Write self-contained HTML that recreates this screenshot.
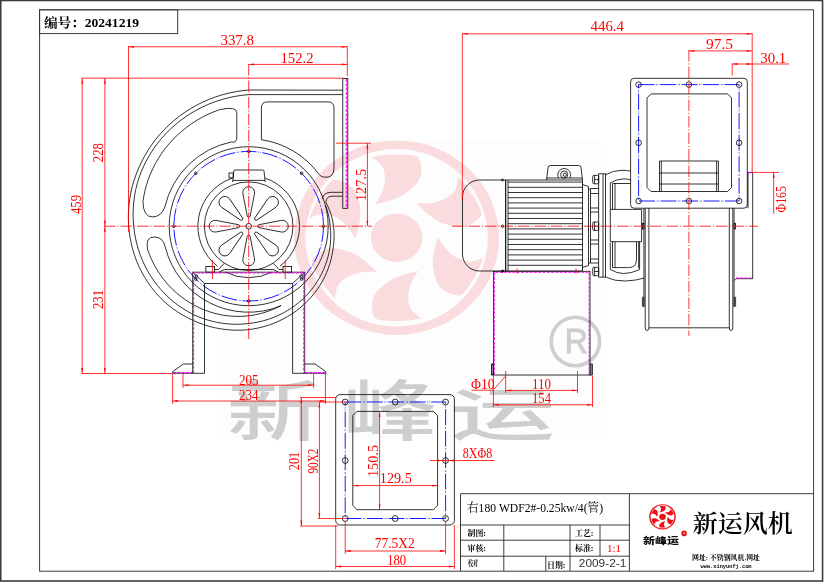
<!DOCTYPE html>
<html lang="zh"><head><meta charset="utf-8"><title>右180 WDF2#-0.25kw/4(管)</title>
<style>
html,body{margin:0;padding:0;background:#fff}
svg{display:block;will-change:transform}
.k{fill:none;stroke:#000;stroke-width:.8}
.f{fill:none;stroke:#333;stroke-width:.95}
.r{fill:none;stroke:#f00;stroke-width:.8}
.lr{fill:#fff;stroke:#e60012;stroke-width:1}
.c{fill:none;stroke:#f00;stroke-width:.8;stroke-dasharray:11.5 1.9 1.2 1.9}
.b{fill:none;stroke:#00f;stroke-width:.9;stroke-dasharray:16 1.7 .7 .7 .7 1.7}
.m{fill:none;stroke:#f0f;stroke-width:1.05;stroke-dasharray:3 1.3}
text{font-family:"Liberation Serif","Noto Serif CJK SC",serif}
.d{font-size:14.4px;fill:#f00}
.no{font-size:13px;font-weight:bold;fill:#000}
.t1{font-size:12.5px;fill:#000}
.t2{font-size:8.5px;font-weight:bold;fill:#000}
.t3{font-size:7.5px;font-weight:bold;fill:#000}
.t4{font-size:11px;fill:#f00}
.t5{font-family:"Liberation Sans",sans-serif;font-size:11px;fill:#333}
.t6{font-size:6.5px;font-weight:bold;fill:#000}
.t7{font-family:"Liberation Mono",monospace;font-size:6px;font-weight:bold;fill:#000}
.wm{font-family:"Liberation Sans","Noto Sans CJK SC",sans-serif;font-weight:500;font-size:66px;fill:#cecece}
.reg{font-family:"Liberation Sans",sans-serif;font-size:34.6px;fill:#cecece;stroke:#cecece;stroke-width:1.1}
.lg{font-family:"Liberation Sans","Noto Sans CJK SC",sans-serif;font-weight:900;font-size:9px;fill:#111}
.big{font-family:"Liberation Serif","Noto Serif CJK SC",serif;font-size:23.8px;font-weight:600;fill:#000}
</style></head><body>
<svg width="824" height="582" viewBox="0 0 824 582">
<rect width="824" height="582" fill="#fff"/>
<rect x="222" y="139.6" width="379" height="300.4" fill="#fdfdfd"/>
<g transform="translate(396.6 237.7) scale(1.0)" fill="#fadbde">
<path fill-rule="evenodd" d="M-102.4 0A102.4 97.2 0 1 0 102.4 0A102.4 97.2 0 1 0 -102.4 0ZM-91.3 0A91.3 88.7 0 1 1 91.3 0A91.3 88.7 0 1 1 -91.3 0Z"/>
<ellipse rx="25.8" ry="24.2"/>
<path d="M-25.2 -80.7L-24.3 -80.9L-23.0 -81.1L-21.5 -81.3L-19.9 -81.6L-18.2 -81.9L-16.6 -82.1L-15.0 -82.3L-13.4 -82.5L-11.7 -82.6L-10.0 -82.8L-8.3 -82.9L-6.6 -83.0L-4.9 -83.1L-3.3 -83.2L-1.6 -83.2L-0.0 -83.3L1.6 -83.3L3.1 -83.3L4.6 -83.3L6.1 -83.2L7.5 -83.2L8.9 -83.1L10.2 -83.0L11.4 -82.9L12.6 -82.8L13.7 -82.7L14.7 -82.6L15.7 -82.5L16.6 -82.4L17.4 -82.2L18.1 -82.0L18.8 -81.8L19.4 -81.6L19.9 -81.3L20.4 -81.0L20.9 -80.7L21.3 -80.3L21.7 -79.9L22.1 -79.4L22.4 -78.9L22.7 -78.3L23.0 -77.7L23.3 -77.1L23.5 -76.4L23.7 -75.8L23.9 -75.1L24.0 -74.3L24.2 -73.4L24.4 -72.5L24.6 -71.5L24.7 -70.4L24.8 -69.3L24.9 -68.1L24.8 -66.8L24.6 -65.4L24.4 -63.9L24.0 -62.3L23.6 -60.8L23.0 -59.2L22.4 -57.8L21.7 -56.5L20.8 -55.3L19.9 -54.2L18.9 -53.0L17.7 -51.8L16.4 -50.6L14.9 -49.2L13.2 -47.8L11.3 -46.3L9.4 -44.8L7.4 -43.4L5.5 -42.2L3.6 -41.2L1.7 -40.3L-0.2 -39.5L-2.2 -38.8L-4.3 -38.0L-6.5 -37.3L-9.0 -36.5L-11.9 -35.7L-14.8 -34.9L-17.6 -34.2L-19.9 -33.5L-21.6 -33.1L-21.0 -34.1L-20.1 -35.4L-19.1 -37.1L-18.0 -38.8L-17.0 -40.5L-16.1 -42.2L-15.4 -43.8L-14.7 -45.4L-14.0 -47.0L-13.4 -48.7L-12.9 -50.3L-12.5 -51.8L-12.2 -53.3L-11.9 -54.7L-11.8 -56.1L-11.7 -57.4L-11.7 -58.8L-11.7 -60.2L-11.8 -61.6L-11.9 -63.1L-12.1 -64.5L-12.3 -66.0L-12.7 -67.3L-13.1 -68.6L-13.6 -69.8L-14.2 -70.8L-14.8 -71.8L-15.5 -72.8L-16.4 -73.7L-17.3 -74.7L-18.5 -75.8L-20.0 -76.9L-21.5 -78.1L-23.0 -79.1L-24.3 -80.0Z"/>
<path d="M61.6 -60.9L62.2 -60.2L63.1 -59.3L64.0 -58.2L65.1 -57.0L66.2 -55.8L67.2 -54.6L68.2 -53.4L69.1 -52.1L70.1 -50.8L71.1 -49.5L72.1 -48.2L73.0 -46.9L73.9 -45.6L74.8 -44.3L75.7 -43.0L76.6 -41.7L77.4 -40.4L78.2 -39.1L78.9 -37.9L79.6 -36.7L80.2 -35.5L80.8 -34.3L81.4 -33.2L81.9 -32.2L82.4 -31.2L82.9 -30.2L83.3 -29.3L83.7 -28.5L84.0 -27.7L84.3 -26.9L84.5 -26.2L84.6 -25.6L84.7 -25.0L84.8 -24.4L84.7 -23.9L84.7 -23.3L84.5 -22.7L84.3 -22.2L84.0 -21.7L83.7 -21.1L83.4 -20.6L83.0 -20.1L82.5 -19.6L82.0 -19.1L81.5 -18.6L81.0 -18.1L80.3 -17.5L79.6 -17.0L78.8 -16.4L78.0 -15.7L77.1 -15.0L76.1 -14.4L75.0 -13.7L73.8 -13.2L72.5 -12.6L71.0 -12.1L69.3 -11.6L67.7 -11.1L66.0 -10.8L64.4 -10.6L62.8 -10.6L61.3 -10.7L59.8 -10.8L58.2 -11.1L56.5 -11.5L54.7 -11.9L52.7 -12.5L50.5 -13.1L48.2 -13.9L45.9 -14.7L43.6 -15.6L41.6 -16.6L39.7 -17.7L37.9 -18.8L36.2 -19.9L34.5 -21.2L32.8 -22.5L31.1 -24.0L29.1 -25.6L26.9 -27.5L24.7 -29.5L22.6 -31.4L20.9 -33.0L19.6 -34.2L20.9 -34.2L22.5 -34.1L24.5 -34.1L26.7 -34.1L28.8 -34.1L30.8 -34.2L32.6 -34.4L34.4 -34.7L36.3 -34.9L38.0 -35.3L39.8 -35.7L41.4 -36.1L42.9 -36.6L44.3 -37.1L45.7 -37.7L47.0 -38.3L48.2 -38.9L49.5 -39.6L50.8 -40.4L52.1 -41.2L53.3 -42.1L54.5 -43.1L55.6 -44.0L56.5 -45.0L57.3 -46.0L58.0 -46.9L58.6 -48.0L59.1 -49.0L59.6 -50.2L60.0 -51.5L60.4 -53.0L60.8 -54.7L61.0 -56.6L61.3 -58.3L61.5 -59.8Z"/>
<path d="M86.8 19.8L86.5 20.6L86.1 21.8L85.6 23.1L85.0 24.6L84.4 26.1L83.8 27.5L83.2 28.9L82.5 30.3L81.8 31.8L81.1 33.3L80.4 34.7L79.6 36.1L78.9 37.5L78.1 38.9L77.4 40.3L76.6 41.6L75.8 42.9L75.1 44.2L74.3 45.4L73.5 46.6L72.7 47.7L72.0 48.8L71.2 49.8L70.5 50.7L69.9 51.7L69.2 52.5L68.6 53.3L68.0 54.0L67.5 54.7L66.9 55.3L66.3 55.8L65.8 56.2L65.3 56.6L64.8 56.9L64.3 57.2L63.8 57.4L63.2 57.6L62.6 57.7L61.9 57.7L61.3 57.7L60.6 57.7L60.0 57.6L59.3 57.5L58.6 57.4L57.8 57.2L57.1 57.0L56.3 56.7L55.4 56.4L54.4 56.1L53.4 55.8L52.4 55.4L51.3 54.9L50.2 54.3L49.0 53.6L47.9 52.8L46.6 51.8L45.3 50.8L44.1 49.6L42.9 48.4L42.0 47.2L41.1 45.9L40.4 44.7L39.8 43.3L39.3 41.9L38.8 40.4L38.3 38.7L37.8 36.7L37.3 34.6L36.9 32.4L36.5 30.1L36.2 27.8L36.1 25.6L36.1 23.5L36.2 21.5L36.4 19.6L36.8 17.6L37.1 15.5L37.6 13.3L38.1 10.9L38.8 8.2L39.5 5.4L40.2 2.8L40.8 0.5L41.2 -1.1L41.8 -0.1L42.6 1.3L43.6 3.0L44.7 4.7L45.8 6.4L46.9 8.0L47.9 9.4L49.1 10.8L50.3 12.1L51.5 13.4L52.7 14.6L53.9 15.7L55.1 16.7L56.3 17.6L57.5 18.4L58.7 19.2L59.9 19.9L61.2 20.6L62.6 21.2L64.0 21.8L65.4 22.4L66.8 22.9L68.3 23.3L69.6 23.6L70.9 23.8L72.2 23.9L73.4 23.8L74.7 23.7L76.0 23.5L77.3 23.2L78.9 22.8L80.7 22.2L82.6 21.5L84.3 20.8L85.8 20.2Z"/>
<path d="M25.2 80.7L24.3 80.9L23.0 81.1L21.5 81.3L19.9 81.6L18.2 81.9L16.6 82.1L15.0 82.3L13.4 82.5L11.7 82.6L10.0 82.8L8.3 82.9L6.6 83.0L4.9 83.1L3.3 83.2L1.6 83.2L0.0 83.3L-1.6 83.3L-3.1 83.3L-4.6 83.3L-6.1 83.2L-7.5 83.2L-8.9 83.1L-10.2 83.0L-11.4 82.9L-12.6 82.8L-13.7 82.7L-14.7 82.6L-15.7 82.5L-16.6 82.4L-17.4 82.2L-18.1 82.0L-18.8 81.8L-19.4 81.6L-19.9 81.3L-20.4 81.0L-20.9 80.7L-21.3 80.3L-21.7 79.9L-22.1 79.4L-22.4 78.9L-22.7 78.3L-23.0 77.7L-23.3 77.1L-23.5 76.4L-23.7 75.8L-23.9 75.1L-24.0 74.3L-24.2 73.4L-24.4 72.5L-24.6 71.5L-24.7 70.4L-24.8 69.3L-24.9 68.1L-24.8 66.8L-24.6 65.4L-24.4 63.9L-24.0 62.3L-23.6 60.8L-23.0 59.2L-22.4 57.8L-21.7 56.5L-20.8 55.3L-19.9 54.2L-18.9 53.0L-17.7 51.8L-16.4 50.6L-14.9 49.2L-13.2 47.8L-11.3 46.3L-9.4 44.8L-7.4 43.4L-5.5 42.2L-3.6 41.2L-1.7 40.3L0.2 39.5L2.2 38.8L4.3 38.0L6.5 37.3L9.0 36.5L11.9 35.7L14.8 34.9L17.6 34.2L19.9 33.5L21.6 33.1L21.0 34.1L20.1 35.4L19.1 37.1L18.0 38.8L17.0 40.5L16.1 42.2L15.4 43.8L14.7 45.4L14.0 47.0L13.4 48.7L12.9 50.3L12.5 51.8L12.2 53.3L11.9 54.7L11.8 56.1L11.7 57.4L11.7 58.8L11.7 60.2L11.8 61.6L11.9 63.1L12.1 64.5L12.3 66.0L12.7 67.3L13.1 68.6L13.6 69.8L14.2 70.8L14.8 71.8L15.5 72.8L16.4 73.7L17.3 74.7L18.5 75.8L20.0 76.9L21.5 78.1L23.0 79.1L24.3 80.0Z"/>
<path d="M-61.6 60.9L-62.2 60.2L-63.1 59.3L-64.0 58.2L-65.1 57.0L-66.2 55.8L-67.2 54.6L-68.2 53.4L-69.1 52.1L-70.1 50.8L-71.1 49.5L-72.1 48.2L-73.0 46.9L-73.9 45.6L-74.8 44.3L-75.7 43.0L-76.6 41.7L-77.4 40.4L-78.2 39.1L-78.9 37.9L-79.6 36.7L-80.2 35.5L-80.8 34.3L-81.4 33.2L-81.9 32.2L-82.4 31.2L-82.9 30.2L-83.3 29.3L-83.7 28.5L-84.0 27.7L-84.3 26.9L-84.5 26.2L-84.6 25.6L-84.7 25.0L-84.8 24.4L-84.7 23.9L-84.7 23.3L-84.5 22.7L-84.3 22.2L-84.0 21.7L-83.7 21.1L-83.4 20.6L-83.0 20.1L-82.5 19.6L-82.0 19.1L-81.5 18.6L-81.0 18.1L-80.3 17.5L-79.6 17.0L-78.8 16.4L-78.0 15.7L-77.1 15.0L-76.1 14.4L-75.0 13.7L-73.8 13.2L-72.5 12.6L-71.0 12.1L-69.3 11.6L-67.7 11.1L-66.0 10.8L-64.4 10.6L-62.8 10.6L-61.3 10.7L-59.8 10.8L-58.2 11.1L-56.5 11.5L-54.7 11.9L-52.7 12.5L-50.5 13.1L-48.2 13.9L-45.9 14.7L-43.6 15.6L-41.6 16.6L-39.7 17.7L-37.9 18.8L-36.2 19.9L-34.5 21.2L-32.8 22.5L-31.1 24.0L-29.1 25.6L-26.9 27.5L-24.7 29.5L-22.6 31.4L-20.9 33.0L-19.6 34.2L-20.9 34.2L-22.5 34.1L-24.5 34.1L-26.7 34.1L-28.8 34.1L-30.8 34.2L-32.6 34.4L-34.4 34.7L-36.3 34.9L-38.0 35.3L-39.8 35.7L-41.4 36.1L-42.9 36.6L-44.3 37.1L-45.7 37.7L-47.0 38.3L-48.2 38.9L-49.5 39.6L-50.8 40.4L-52.1 41.2L-53.3 42.1L-54.5 43.1L-55.6 44.0L-56.5 45.0L-57.3 46.0L-58.0 46.9L-58.6 48.0L-59.1 49.0L-59.6 50.2L-60.0 51.5L-60.4 53.0L-60.8 54.7L-61.0 56.6L-61.3 58.3L-61.5 59.8Z"/>
<path d="M-86.8 -19.8L-86.5 -20.6L-86.1 -21.8L-85.6 -23.1L-85.0 -24.6L-84.4 -26.1L-83.8 -27.5L-83.2 -28.9L-82.5 -30.3L-81.8 -31.8L-81.1 -33.3L-80.4 -34.7L-79.6 -36.1L-78.9 -37.5L-78.1 -38.9L-77.4 -40.3L-76.6 -41.6L-75.8 -42.9L-75.1 -44.2L-74.3 -45.4L-73.5 -46.6L-72.7 -47.7L-72.0 -48.8L-71.2 -49.8L-70.5 -50.7L-69.9 -51.7L-69.2 -52.5L-68.6 -53.3L-68.0 -54.0L-67.5 -54.7L-66.9 -55.3L-66.3 -55.8L-65.8 -56.2L-65.3 -56.6L-64.8 -56.9L-64.3 -57.2L-63.8 -57.4L-63.2 -57.6L-62.6 -57.7L-61.9 -57.7L-61.3 -57.7L-60.6 -57.7L-60.0 -57.6L-59.3 -57.5L-58.6 -57.4L-57.8 -57.2L-57.1 -57.0L-56.3 -56.7L-55.4 -56.4L-54.4 -56.1L-53.4 -55.8L-52.4 -55.4L-51.3 -54.9L-50.2 -54.3L-49.0 -53.6L-47.9 -52.8L-46.6 -51.8L-45.3 -50.8L-44.1 -49.6L-42.9 -48.4L-42.0 -47.2L-41.1 -45.9L-40.4 -44.7L-39.8 -43.3L-39.3 -41.9L-38.8 -40.4L-38.3 -38.7L-37.8 -36.7L-37.3 -34.6L-36.9 -32.4L-36.5 -30.1L-36.2 -27.8L-36.1 -25.6L-36.1 -23.5L-36.2 -21.5L-36.4 -19.6L-36.8 -17.6L-37.1 -15.5L-37.6 -13.3L-38.1 -10.9L-38.8 -8.2L-39.5 -5.4L-40.2 -2.8L-40.8 -0.5L-41.2 1.1L-41.8 0.1L-42.6 -1.3L-43.6 -3.0L-44.7 -4.7L-45.8 -6.4L-46.9 -8.0L-47.9 -9.4L-49.1 -10.8L-50.3 -12.1L-51.5 -13.4L-52.7 -14.6L-53.9 -15.7L-55.1 -16.7L-56.3 -17.6L-57.5 -18.4L-58.7 -19.2L-59.9 -19.9L-61.2 -20.6L-62.6 -21.2L-64.0 -21.8L-65.4 -22.4L-66.8 -22.9L-68.3 -23.3L-69.6 -23.6L-70.9 -23.8L-72.2 -23.9L-73.4 -23.8L-74.7 -23.7L-76.0 -23.5L-77.3 -23.2L-78.9 -22.8L-80.7 -22.2L-82.6 -21.5L-84.3 -20.8L-85.8 -20.2Z"/>
</g>
<text class="wm" transform="translate(274.3 434.5) scale(1.44 1)" text-anchor="middle">新</text>
<text class="wm" transform="translate(390 434.5) scale(1.44 1)" text-anchor="middle">峰</text>
<text class="wm" transform="translate(502.5 434.5) scale(1.6 0.86)" text-anchor="middle">运</text>
<circle cx="575.4" cy="341.5" r="24.2" fill="none" stroke="#cecece" stroke-width="3.6"/>
<text class="reg" x="576.3" y="353.4" text-anchor="middle" textLength="23" lengthAdjust="spacingAndGlyphs">R</text>
<rect x="0.75" y="0.5" width="821.8" height="580.5" fill="none" stroke="#3c3c3c" stroke-width="1.6"/>
<rect class="f" x="39.6" y="9.8" width="774" height="561.4" rx="0" />
<rect class="f" x="39.6" y="9.8" width="138.1" height="23.8" rx="0" />
<text class="no" x="44" y="27.4" text-anchor="start" textLength="95" lengthAdjust="spacingAndGlyphs" >编号：20241219</text>
<path class="k" d="M325.84 202.17L327.75 206.05L329.45 210.06L330.95 214.2L332.12 218.46L333.04 222.81L333.71 227.24L334.03 231.72L334.11 236.23L333.95 240.77L333.55 245.32L332.91 249.87L332.12 254.44L331.13 259L329.88 263.54L328.39 268.04L326.64 272.48L324.65 276.85L322.41 281.14L319.93 285.34L317.21 289.42L314.26 293.38L311.08 297.21L307.68 300.88L304.06 304.39L300.24 307.73L296.22 310.88L292.01 313.83L287.62 316.56L283.06 319.08L278.34 321.37L273.48 323.42L268.48 325.21L263.37 326.75L258.15 328.02L252.83 329.02L247.44 329.73L241.98 330.11L236.48 330.2L230.96 330L225.42 329.51L219.88 328.72L214.37 327.63L208.89 326.24L203.46 324.56L198.1 322.58L192.83 320.3L187.62 317.78L182.52 314.98L177.56 311.89L172.73 308.53L168.06 304.89L163.57 300.99L159.32 296.78L155.34 292.3L151.58 287.6L148.06 282.68L144.79 277.56L141.78 272.25L139.05 266.76L136.64 261.1L134.53 255.3L132.71 249.38L131.21 243.34L130.01 237.21L129.14 231L128.58 224.73L128.35 218.42L128.45 212.07L128.88 205.72L129.65 199.37L130.76 193.05L132.2 186.77L133.99 180.55L136.1 174.41L138.54 168.37L141.31 162.44L144.35 156.61L147.68 150.9L151.31 145.35L155.26 139.97L159.5 134.79L164.02 129.82L168.83 125.07L173.9 120.56L179.22 116.3L184.79 112.31L190.58 108.61L196.59 105.2L202.8 102.1L209.18 99.32L215.73 96.87L222.44 94.76L229.27 93L236.21 91.59L243.25 90.55L248.7 90L342.8 90.2" />
<path class="k" d="M325.59 205.6L326.93 209.57L328.07 213.63L329 217.76L329.71 221.95L330.2 226.2L330.59 230.49L330.75 234.82L330.68 239.18L330.38 243.56L329.84 247.94L329.06 252.31L328.05 256.66L326.81 260.98L325.33 265.24L323.61 269.45L321.7 273.61L319.55 277.68L317.18 281.66L314.59 285.53L311.77 289.27L308.75 292.89L305.52 296.36L302.08 299.67L298.46 302.82L294.65 305.79L290.67 308.56L286.52 311.14L282.21 313.51L277.77 315.66L273.18 317.58L268.48 319.26L263.67 320.7L258.76 321.89L253.76 322.83L248.7 323.5L243.57 324.01L238.39 324.25L233.18 324.22L227.93 323.9L222.68 323.31L217.43 322.43L212.21 321.26L207.02 319.82L201.88 318.08L196.82 316.07L191.85 313.75L187.02 311.1L182.31 308.19L177.73 305.02L173.31 301.59L169.06 297.91L164.98 294L161.1 289.85L157.42 285.48L153.96 280.9L150.73 276.12L147.74 271.15L145.01 266L142.53 260.7L140.34 255.24L138.42 249.64L136.79 243.92L135.47 238.1L134.44 232.19L133.68 226.2L133.22 220.15L133.07 214.05L133.25 207.91L133.75 201.77L134.58 195.62L135.75 189.5L137.24 183.41L139.12 177.41L141.35 171.5L143.9 165.69L146.77 160L149.94 154.45L153.42 149.05L157.2 143.81L161.26 138.76L165.6 133.91L170.21 129.28L175.08 124.87L180.2 120.71L185.55 116.82L191.12 113.19L196.9 109.85L202.87 106.8L209.01 104.06L215.32 101.64L221.78 99.55L228.36 97.79L235.05 96.37L241.84 95.31L248.7 94.6L342.8 94.6" />
<path class="k" d="M342.8 196.2H332Q326.4 196.2 325.84 202.17" />
<path class="k" d="M342.8 192.3H331.5Q323.4 192.3 322.4 198.7" />
<rect class="k" x="342.8" y="78.4" width="5" height="129.9" rx="0" />
<path class="m" d="M346.3 79L346.3 208" />
<circle class="k" cx="248.7" cy="226.2" r="79.5" />
<circle class="b" cx="248.7" cy="226.2" r="74.8" />
<circle class="k" cx="323.5" cy="226.2" r="1.3" />
<circle class="k" cx="301.59" cy="279.09" r="1.3" />
<circle class="k" cx="248.7" cy="301" r="1.3" />
<circle class="k" cx="195.81" cy="279.09" r="1.3" />
<circle class="k" cx="173.9" cy="226.2" r="1.3" />
<circle class="k" cx="195.81" cy="173.31" r="1.3" />
<circle class="k" cx="248.7" cy="151.4" r="1.3" />
<circle class="k" cx="301.59" cy="173.31" r="1.3" />
<circle class="k" cx="248.7" cy="226.2" r="44.3" />
<path class="k" d="M265.24 178.17A50.8 50.8 0 0 1 279.98 266.23" />
<path class="k" d="M217.42 266.23A50.8 50.8 0 0 1 232.16 178.17" />
<path class="k" d="M272.08 272.09A51.5 51.5 0 0 1 225.32 272.09" />
<path class="k" d="M232.6 182L233.8 171Q233.9 170 235 170H262.8Q263.9 170 264 171L265.2 182" />
<path class="k" d="M232.8 180.4L265 180.4" />
<rect class="k" x="229" y="173" width="4.2" height="4.9" rx="0" />
<path class="k" transform="translate(248.7 226.2) rotate(0)" d="M10.12 -1.47L32.58 -5.79A5.9 5.9 0 1 1 32.58 5.79L10.12 1.47A1.5 1.5 0 0 1 10.12 -1.47Z"/>
<path class="k" transform="translate(248.7 226.2) rotate(45)" d="M10.12 -1.47L32.58 -5.79A5.9 5.9 0 1 1 32.58 5.79L10.12 1.47A1.5 1.5 0 0 1 10.12 -1.47Z"/>
<path class="k" transform="translate(248.7 226.2) rotate(90)" d="M10.12 -1.47L32.58 -5.79A5.9 5.9 0 1 1 32.58 5.79L10.12 1.47A1.5 1.5 0 0 1 10.12 -1.47Z"/>
<path class="k" transform="translate(248.7 226.2) rotate(135)" d="M10.12 -1.47L32.58 -5.79A5.9 5.9 0 1 1 32.58 5.79L10.12 1.47A1.5 1.5 0 0 1 10.12 -1.47Z"/>
<path class="k" transform="translate(248.7 226.2) rotate(180)" d="M10.12 -1.47L32.58 -5.79A5.9 5.9 0 1 1 32.58 5.79L10.12 1.47A1.5 1.5 0 0 1 10.12 -1.47Z"/>
<path class="k" transform="translate(248.7 226.2) rotate(225)" d="M10.12 -1.47L32.58 -5.79A5.9 5.9 0 1 1 32.58 5.79L10.12 1.47A1.5 1.5 0 0 1 10.12 -1.47Z"/>
<path class="k" transform="translate(248.7 226.2) rotate(270)" d="M10.12 -1.47L32.58 -5.79A5.9 5.9 0 1 1 32.58 5.79L10.12 1.47A1.5 1.5 0 0 1 10.12 -1.47Z"/>
<path class="k" transform="translate(248.7 226.2) rotate(315)" d="M10.12 -1.47L32.58 -5.79A5.9 5.9 0 1 1 32.58 5.79L10.12 1.47A1.5 1.5 0 0 1 10.12 -1.47Z"/>
<circle class="k" cx="248.7" cy="226.2" r="2.8" />
<rect class="k" x="205.9" y="266.4" width="8.6" height="5.8" rx="0" />
<rect class="k" x="283" y="266.4" width="8.6" height="5.8" rx="0" />
<path class="k" d="M214.5 269.5L218.5 269.5L224 263.5" />
<path class="k" d="M283 269.5L279 269.5L273.5 263.5" />
<path class="k" d="M219 272.2L224.5 269.5H273L278.5 272.2" />
<path class="k" d="M261.4 139.7V107.9Q261.4 101.9 267.4 101.9H328Q334 101.9 334 107.9V168Q334 178.5 323.81 177.14Q320.81 176.64 319.31 174.64A87.5 87.5 0 0 0 261.4 139.7Z" />
<path class="k" d="M142.93 201.78L143.83 196.13L145.02 190.5L146.52 184.92L148.32 179.39L150.42 173.94L152.82 168.59L155.51 163.34L158.49 158.22L161.74 153.24L165.28 148.41L169.08 143.75L173.14 139.28L177.46 135.01L182.01 130.96L186.79 127.13L191.8 123.54L197 120.21L202.41 117.14L207.99 114.35L213.74 111.84L219.64 109.64Q236.8 106 236.8 112.6V137Q236.8 143.5 231.55 141.93A86 86 0 0 0 164.9 206.85Q161.33 216.92 152.33 216.92Q143.33 216.92 142.93 201.78Z" />
<path class="k" d="M280.75 305.53L276.74 307.62L272.59 309.51L268.32 311.18L263.94 312.64L259.46 313.86L254.9 314.86L250.26 315.61L245.56 316.12L240.81 316.38L236.02 316.39L231.22 316.15L226.4 315.65L221.59 314.88L216.79 313.86L212.03 312.58L207.32 311.04L202.67 309.24L198.1 307.18L193.61 304.88L189.23 302.32L184.96 299.52L180.83 296.48L176.84 293.21L173.01 289.71L169.35 285.99L165.87 282.07L162.59 277.94L159.51 273.62L156.65 269.12L154.02 264.45L151.63 259.62L149.48 254.65L147.59 249.54Q145.15 236.97 154.15 236.97Q163.15 236.97 165.25 247.01A86 86 0 0 0 280.92 305.94Z" />
<path class="k" d="M192.7 373.3V272.2H304.7V373.3" />
<path class="k" d="M204.5 283.5L204.5 373.3" />
<path class="k" d="M292.6 283.5L292.6 373.3" />
<path class="k" d="M204.5 283.5L292.6 283.5" />
<path class="k" d="M192.7 272.2L204.5 283.5" />
<path class="k" d="M304.7 272.2L292.6 283.5" />
<path class="k" d="M204.5 373.3H172.6V371.6L183.4 364H192.7" />
<path class="k" d="M292.6 373.3H325.8V371.6L315 364H304.7" />
<path class="m" d="M193.6 373V273H304" />
<path class="m" d="M303.8 273L303.8 373" />
<path class="m" d="M173 372.6L192 372.6" />
<path class="m" d="M305 372.6L325 372.6" />
<circle class="k" cx="196.3" cy="276.2" r="1.3" />
<circle class="k" cx="301.2" cy="276.2" r="1.3" />
<path class="c" d="M104 226.2L372 226.2" />
<path class="c" d="M248.7 64L248.7 339" />
<path class="r" d="M212.4 260L212.4 279" />
<path class="r" d="M285.2 260L285.2 279" />
<path class="r" d="M81.5 78.2L343.4 78.2" />
<path class="r" d="M81.5 373.5L172 373.5" />
<path class="r" d="M82.2 78.2L82.2 373.5" />
<path d="M82.2 78.2L83.1 83.7L81.3 83.7Z" fill="#f00"/>
<path d="M82.2 373.5L81.3 368L83.1 368Z" fill="#f00"/>
<path class="r" d="M104.9 78.2L104.9 226.2" />
<path d="M104.9 78.2L105.8 83.7L104 83.7Z" fill="#f00"/>
<path d="M104.9 226.2L104 220.7L105.8 220.7Z" fill="#f00"/>
<path class="r" d="M104.9 226.2L104.9 373.5" />
<path d="M104.9 226.2L105.8 231.7L104 231.7Z" fill="#f00"/>
<path d="M104.9 373.5L104 368L105.8 368Z" fill="#f00"/>
<text class="d" text-anchor="middle" textLength="19" lengthAdjust="spacingAndGlyphs" transform="translate(81 204.5) rotate(-90)">459</text>
<text class="d" text-anchor="middle" textLength="19" lengthAdjust="spacingAndGlyphs" transform="translate(103.4 152.7) rotate(-90)">228</text>
<text class="d" text-anchor="middle" textLength="19" lengthAdjust="spacingAndGlyphs" transform="translate(103.4 299.5) rotate(-90)">231</text>
<path class="r" d="M128.5 46L128.5 232" />
<path class="r" d="M347.3 46L347.3 76" />
<path class="r" d="M128.5 46.8L347.3 46.8" />
<path d="M128.5 46.8L134 45.9L134 47.7Z" fill="#f00"/>
<path d="M347.3 46.8L341.8 47.7L341.8 45.9Z" fill="#f00"/>
<text class="d" x="237.2" y="45" text-anchor="middle" textLength="33.5" lengthAdjust="spacingAndGlyphs" >337.8</text>
<path class="r" d="M248.7 64.4L347.3 64.4" />
<path d="M248.7 64.4L254.2 63.5L254.2 65.3Z" fill="#f00"/>
<path d="M347.3 64.4L341.8 65.3L341.8 63.5Z" fill="#f00"/>
<text class="d" x="297" y="62.7" text-anchor="middle" textLength="33" lengthAdjust="spacingAndGlyphs" >152.2</text>
<path class="r" d="M336 143.2L371 143.2" />
<path class="r" d="M367.4 143.2L367.4 226.2" />
<path d="M367.4 143.2L368.3 148.7L366.5 148.7Z" fill="#f00"/>
<path d="M367.4 226.2L366.5 220.7L368.3 220.7Z" fill="#f00"/>
<text class="d" text-anchor="middle" textLength="32" lengthAdjust="spacingAndGlyphs" transform="translate(365.6 185) rotate(-90)">127.5</text>
<path class="r" d="M183 374L183 388" />
<path class="r" d="M313.6 374L313.6 388" />
<path class="r" d="M183 385.2L313.6 385.2" />
<path d="M183 385.2L188.5 384.3L188.5 386.1Z" fill="#f00"/>
<path d="M313.6 385.2L308.1 386.1L308.1 384.3Z" fill="#f00"/>
<text class="d" x="248.8" y="384.6" text-anchor="middle" textLength="19.5" lengthAdjust="spacingAndGlyphs" >205</text>
<path class="r" d="M172.6 374L172.6 404" />
<path class="r" d="M325.4 374L325.4 404" />
<path class="r" d="M172.6 401L325.4 401" />
<path d="M172.6 401L178.1 400.1L178.1 401.9Z" fill="#f00"/>
<path d="M325.4 401L319.9 401.9L319.9 400.1Z" fill="#f00"/>
<text class="d" x="248.8" y="399.8" text-anchor="middle" textLength="19.5" lengthAdjust="spacingAndGlyphs" >234</text>
<path class="k" d="M505.7 180H479.5A17 17 0 0 0 462.5 197V254A17 17 0 0 0 479.5 271H505.7Z" />
<circle class="k" cx="502.5" cy="180" r="1" />
<circle class="k" cx="502.5" cy="226.2" r="1.2" />
<circle class="k" cx="502.5" cy="271.2" r="1" />
<rect class="k" x="505.7" y="180" width="76.8" height="91" rx="0" />
<path class="k" d="M508 182.1L582.5 182.1" />
<path class="k" d="M508 187.3L582.5 187.3" />
<path class="k" d="M508 192.5L582.5 192.5" />
<path class="k" d="M508 197.7L582.5 197.7" />
<path class="k" d="M508 202.9L582.5 202.9" />
<path class="k" d="M508 208.1L582.5 208.1" />
<path class="k" d="M508 213.3L582.5 213.3" />
<path class="k" d="M508 218.5L582.5 218.5" />
<path class="k" d="M508 223.7L582.5 223.7" />
<path class="k" d="M508 228.9L582.5 228.9" />
<path class="k" d="M508 234.1L582.5 234.1" />
<path class="k" d="M508 239.3L582.5 239.3" />
<path class="k" d="M508 244.5L582.5 244.5" />
<path class="k" d="M508 249.7L582.5 249.7" />
<path class="k" d="M508 254.9L582.5 254.9" />
<path class="k" d="M508 260.1L582.5 260.1" />
<path class="k" d="M508 265.3L582.5 265.3" />
<path class="k" d="M508 180L508 271" />
<path class="k" d="M546.6 180L548 167.5Q548.3 165.5 550.5 165.5H578.5Q580.7 165.5 581 167.5L582.5 180" />
<path class="k" d="M558.6 178A6.4 6.4 0 1 1 569.8 178" />
<circle class="k" cx="564.2" cy="174.6" r="3.6" />
<circle class="k" cx="564.8" cy="174.8" r="1.6" />
<path class="k" d="M546.2 178L582.5 178" />
<path class="k" d="M582.5 184.5L588.5 186.5V265.5L582.5 267.5" />
<path class="k" d="M588.5 189H590.5V263H588.5" />
<path class="k" d="M590.5 188.5L598.6 188.5" />
<path class="k" d="M590.5 193.5L598.6 193.5" />
<path class="k" d="M590.5 208L598.6 208" />
<path class="k" d="M590.5 212L598.6 212" />
<path class="k" d="M590.5 240L598.6 240" />
<path class="k" d="M590.5 244L598.6 244" />
<path class="k" d="M590.5 259L598.6 259" />
<path class="k" d="M590.5 263L598.6 263" />
<rect class="k" x="598.7" y="173.8" width="6.9" height="103.3" rx="0" />
<path class="k" d="M603 173.8L603 277.1" />
<rect class="k" x="592.7" y="175.4" width="6" height="8.4" rx="1.2" />
<path class="k" d="M594.6 175.4L594.6 183.8" />
<path class="k" d="M594.6 179.6L598.7 179.6" />
<rect class="k" x="592.7" y="222" width="6" height="8.4" rx="1.2" />
<path class="k" d="M594.6 222L594.6 230.4" />
<path class="k" d="M594.6 226.2L598.7 226.2" />
<rect class="k" x="592.7" y="267.3" width="6" height="8.4" rx="1.2" />
<path class="k" d="M594.6 267.3L594.6 275.7" />
<path class="k" d="M594.6 271.5L598.7 271.5" />
<path class="k" d="M605.6 174.7Q613 170.4 622 170.3Q627 170.3 630.6 171.2" />
<path class="k" d="M610.3 209.4V182.9Q617 178.9 623.5 178.9Q631 178.9 630.6 180.9" />
<path class="k" d="M612.5 209.4V183.5H630.6" />
<path class="k" d="M615 209.4L615 183.5" />
<path class="k" d="M605.6 277.1Q615 281.4 625.4 281Q636 280.6 644.3 278" />
<path class="k" d="M610.3 243V269.5Q617 273.5 623.5 273.5Q631 273.5 639.6 269.7V241.7" />
<path class="k" d="M612.5 241.7V267.6H628.5Q636.5 267.6 636.5 259.6V241.7" />
<path class="k" d="M615 241.7L615 267.6" />
<path class="k" d="M638.7 241.7L638.7 268.2" />
<path class="k" d="M610.3 209.4H641.6V241.7H610.3Z" />
<path class="k" d="M645.2 208.2L645.2 327.8" />
<path class="k" d="M648.9 208.2L648.9 327.8" />
<path class="k" d="M729.3 208.2L729.3 327.8" />
<path class="k" d="M732.8 208.2L732.8 327.8" />
<path class="k" d="M643.9 208.2L643.9 307" />
<path class="k" d="M734.1 208.2L734.1 307" />
<path class="k" d="M645.2 327.8Q645.2 330.5 647 330.5Q648.9 330.5 648.9 327.8H729.3Q729.3 330.5 731 330.5Q732.8 330.5 732.8 327.8" />
<rect class="k" x="642.4" y="223.5" width="1.5" height="5.5" rx="0" />
<rect class="k" x="734.1" y="223.5" width="1.5" height="5.5" rx="0" />
<rect class="k" x="642.4" y="297" width="1.5" height="9.5" rx="0.7" />
<rect class="k" x="734.1" y="297" width="1.5" height="9.5" rx="0.7" />
<path class="k" d="M747.3 172.4H752.7V278.7H736L734.1 280.6" />
<path class="k" d="M748 208.2L748 172.4" />
<path class="m" d="M736 278L752.5 278" />
<path class="m" d="M748 172.8L752.5 172.8" />
<rect x="630.6" y="78.3" width="116.7" height="129.9" rx="3.5" fill="#fff" class="k"/>
<rect class="b" x="638.6" y="84.6" width="100.5" height="116.4" rx="0" />
<path class="k" d="M651 93.9H727.5L731.5 97.9V187.5L727.5 191.5H651L647 187.5V97.9Z" />
<circle class="k" cx="638.6" cy="84.6" r="2.8" />
<circle class="k" cx="638.6" cy="142.8" r="2.8" />
<circle class="k" cx="638.6" cy="201" r="2.8" />
<circle class="k" cx="688.9" cy="84.6" r="2.8" />
<circle class="k" cx="688.9" cy="201" r="2.8" />
<circle class="k" cx="739.1" cy="84.6" r="2.8" />
<circle class="k" cx="739.1" cy="142.8" r="2.8" />
<circle class="k" cx="739.1" cy="201" r="2.8" />
<path class="k" d="M659.5 161L718.4 161" />
<path class="k" d="M659.5 173L718.4 173" />
<path class="k" d="M659.5 184L718.4 184" />
<path class="k" d="M659.5 161L659.5 191.5" />
<path class="k" d="M661.3 161L661.3 191.5" />
<path class="k" d="M716.6 161L716.6 191.5" />
<path class="k" d="M718.4 161L718.4 191.5" />
<rect class="k" x="493.4" y="271.3" width="96.6" height="103.7" rx="0" />
<rect class="k" x="491.6" y="364" width="1.8" height="11" rx="0" style="fill:#888"/>
<rect class="k" x="590" y="364" width="2.3" height="11" rx="0" style="fill:#888"/>
<path class="m" d="M494.3 374.5V272.2H589.2V374.5" />
<path class="r" d="M517 268.5L517 274" />
<path class="r" d="M576 268.5L576 274" />
<circle class="k" cx="502.5" cy="271.2" r="1" />
<path class="c" d="M452 226.2L758 226.2" />
<path class="c" d="M688.9 50L688.9 335.8" />
<path class="r" d="M462.3 33L462.3 200" />
<path class="r" d="M752.2 33L752.2 172.4" />
<path class="r" d="M462.3 33.8L752.2 33.8" />
<path d="M462.3 33.8L467.8 32.9L467.8 34.7Z" fill="#f00"/>
<path d="M752.2 33.8L746.7 34.7L746.7 32.9Z" fill="#f00"/>
<text class="d" x="607.3" y="31.2" text-anchor="middle" textLength="33.5" lengthAdjust="spacingAndGlyphs" >446.4</text>
<path class="r" d="M688.9 50.9L752.2 50.9" />
<path d="M688.9 50.9L694.4 50L694.4 51.8Z" fill="#f00"/>
<path d="M752.2 50.9L746.7 51.8L746.7 50Z" fill="#f00"/>
<text class="d" x="719.5" y="48.6" text-anchor="middle" textLength="27" lengthAdjust="spacingAndGlyphs" >97.5</text>
<path class="r" d="M732.2 63.6L732.2 75.6" />
<path class="r" d="M732.2 64L789 64" />
<path d="M732.2 64L737.7 63.1L737.7 64.9Z" fill="#f00"/>
<path d="M752.2 64L746.7 64.9L746.7 63.1Z" fill="#f00"/>
<text class="d" x="773.3" y="63" text-anchor="middle" textLength="26" lengthAdjust="spacingAndGlyphs" >30.1</text>
<path class="r" d="M752.8 172.4L779 172.4" />
<path class="r" d="M773.7 172.4L773.7 213.9" />
<path d="M773.7 172.4L774.6 177.9L772.8 177.9Z" fill="#f00"/>
<text class="d" text-anchor="middle" textLength="26.5" lengthAdjust="spacingAndGlyphs" transform="translate(786 199.3) rotate(-90)">Φ165</text>
<path class="r" d="M505.7 371L505.7 393" />
<path class="r" d="M577.5 371L577.5 393" />
<path class="r" d="M505.7 390.4L577.5 390.4" />
<path d="M505.7 390.4L511.2 389.5L511.2 391.3Z" fill="#f00"/>
<path d="M577.5 390.4L572 391.3L572 389.5Z" fill="#f00"/>
<text class="d" x="541.5" y="389" text-anchor="middle" textLength="19" lengthAdjust="spacingAndGlyphs" >110</text>
<path class="r" d="M493.4 376L493.4 407" />
<path class="r" d="M592.5 376L592.5 407" />
<path class="r" d="M493.4 404.8L592.5 404.8" />
<path d="M493.4 404.8L498.9 403.9L498.9 405.7Z" fill="#f00"/>
<path d="M592.5 404.8L587 405.7L587 403.9Z" fill="#f00"/>
<text class="d" x="541.5" y="403" text-anchor="middle" textLength="19" lengthAdjust="spacingAndGlyphs" >154</text>
<text class="d" x="482.8" y="389" text-anchor="middle" textLength="23.5" lengthAdjust="spacingAndGlyphs" >Φ10</text>
<path class="r" d="M471.5 390.2H493L505.8 376" />
<rect x="335.7" y="394.6" width="118.7" height="130.4" rx="4.5" fill="none" class="k"/>
<rect class="b" x="345.2" y="402" width="100.4" height="116.5" rx="0" />
<path class="k" d="M357 411.4H433.4L437.6 415.6V505.5L433.4 509.7H357L352.8 505.5V415.6Z" />
<circle class="k" cx="345.2" cy="402" r="2.9" />
<circle class="k" cx="345.2" cy="460.5" r="2.9" />
<circle class="k" cx="345.2" cy="518.5" r="2.9" />
<circle class="k" cx="395.2" cy="402" r="2.9" />
<circle class="k" cx="395.2" cy="518.5" r="2.9" />
<circle class="k" cx="445.6" cy="402" r="2.9" />
<circle class="k" cx="445.6" cy="460.5" r="2.9" />
<circle class="k" cx="445.6" cy="518.5" r="2.9" />
<path class="r" d="M379.6 411.4L379.6 509.7" />
<path d="M379.6 411.4L380.5 416.9L378.7 416.9Z" fill="#f00"/>
<path d="M379.6 509.7L378.7 504.2L380.5 504.2Z" fill="#f00"/>
<text class="d" text-anchor="middle" textLength="32" lengthAdjust="spacingAndGlyphs" transform="translate(377.8 461) rotate(-90)">150.5</text>
<path class="r" d="M352.8 485.6L437.6 485.6" />
<path d="M352.8 485.6L358.3 484.7L358.3 486.5Z" fill="#f00"/>
<path d="M437.6 485.6L432.1 486.5L432.1 484.7Z" fill="#f00"/>
<text class="d" x="395.8" y="483.4" text-anchor="middle" textLength="32" lengthAdjust="spacingAndGlyphs" >129.5</text>
<path class="r" d="M300 397.5L336 397.5" />
<path class="r" d="M300 526L338 526" />
<path class="r" d="M301.3 397.5L301.3 526" />
<path d="M301.3 397.5L302.2 403L300.4 403Z" fill="#f00"/>
<path d="M301.3 526L300.4 520.5L302.2 520.5Z" fill="#f00"/>
<text class="d" text-anchor="middle" textLength="18.5" lengthAdjust="spacingAndGlyphs" transform="translate(298.8 461) rotate(-90)">201</text>
<path class="r" d="M318 402L345 402" />
<path class="r" d="M318 518.5L345 518.5" />
<path class="r" d="M319.4 402L319.4 518.5" />
<path d="M319.4 402L320.3 407.5L318.5 407.5Z" fill="#f00"/>
<path d="M319.4 518.5L318.5 513L320.3 513Z" fill="#f00"/>
<text class="d" text-anchor="middle" textLength="25" lengthAdjust="spacingAndGlyphs" transform="translate(318.4 461) rotate(-90)">90X2</text>
<path class="r" d="M430 460.5L494.5 460.5" />
<path d="M442.8 460.5L437.3 461.4L437.3 459.6Z" fill="#f00"/>
<path d="M448.4 460.5L453.9 459.6L453.9 461.4Z" fill="#f00"/>
<text class="d" x="477.6" y="458.4" text-anchor="middle" textLength="29.5" lengthAdjust="spacingAndGlyphs" >8XΦ8</text>
<path class="r" d="M345.2 521L345.2 554" />
<path class="r" d="M445.6 521L445.6 554" />
<path class="r" d="M345.2 551L445.6 551" />
<path d="M345.2 551L350.7 550.1L350.7 551.9Z" fill="#f00"/>
<path d="M445.6 551L440.1 551.9L440.1 550.1Z" fill="#f00"/>
<text class="d" x="394.8" y="548.4" text-anchor="middle" textLength="40" lengthAdjust="spacingAndGlyphs" >77.5X2</text>
<path class="r" d="M335.7 525L335.7 569" />
<path class="r" d="M454.4 525L454.4 569" />
<path class="r" d="M335.7 566.5L454.4 566.5" />
<path d="M335.7 566.5L341.2 565.6L341.2 567.4Z" fill="#f00"/>
<path d="M454.4 566.5L448.9 567.4L448.9 565.6Z" fill="#f00"/>
<text class="d" x="396.7" y="564.5" text-anchor="middle" textLength="19" lengthAdjust="spacingAndGlyphs" >180</text>
<path class="f" d="M460.5 571.2V493.7H813.6" />
<path class="f" d="M460.5 525H629.4" />
<path class="f" d="M460.5 540.2H629.4" />
<path class="f" d="M460.5 556.2H629.4" />
<path class="f" d="M503.8 525V571.2" />
<path class="f" d="M570 525V571.2" />
<path class="f" d="M600 525V556.2" />
<path class="f" d="M629.4 493.7V571.2" />
<path class="f" d="M545.8 556.2V571.2" />
<text class="t1" x="467" y="512.3" text-anchor="start" textLength="136" lengthAdjust="spacingAndGlyphs" >右180 WDF2#-0.25kw/4(管)</text>
<text class="t2" x="467.5" y="535.8" text-anchor="start" textLength="18.5" lengthAdjust="spacingAndGlyphs" >制图:</text>
<text class="t2" x="467.5" y="550.8" text-anchor="start" textLength="18.5" lengthAdjust="spacingAndGlyphs" >审核:</text>
<text class="t3" x="468" y="566" text-anchor="start" textLength="10" lengthAdjust="spacingAndGlyphs" >校对</text>
<text class="t2" x="575" y="535.8" text-anchor="start" textLength="18.5" lengthAdjust="spacingAndGlyphs" >工艺:</text>
<text class="t2" x="575" y="550.8" text-anchor="start" textLength="18.5" lengthAdjust="spacingAndGlyphs" >标准:</text>
<text class="t2" x="547" y="567.5" text-anchor="start" textLength="18.5" lengthAdjust="spacingAndGlyphs" >日期:</text>
<text class="t4" x="607" y="551.8" text-anchor="start" textLength="14" lengthAdjust="spacingAndGlyphs" >1:1</text>
<text class="t5" x="578.8" y="567.2" text-anchor="start" textLength="47.5" lengthAdjust="spacingAndGlyphs" >2009-2-1</text>
<g transform="translate(662.5 516.8) scale(0.13)" fill="#ee1118">
<path fill-rule="evenodd" d="M-102.4 0A102.4 97.2 0 1 0 102.4 0A102.4 97.2 0 1 0 -102.4 0ZM-91.3 0A91.3 88.7 0 1 1 91.3 0A91.3 88.7 0 1 1 -91.3 0Z"/>
<ellipse rx="25.8" ry="24.2"/>
<path d="M-25.2 -80.7L-24.3 -80.9L-23.0 -81.1L-21.5 -81.3L-19.9 -81.6L-18.2 -81.9L-16.6 -82.1L-15.0 -82.3L-13.4 -82.5L-11.7 -82.6L-10.0 -82.8L-8.3 -82.9L-6.6 -83.0L-4.9 -83.1L-3.3 -83.2L-1.6 -83.2L-0.0 -83.3L1.6 -83.3L3.1 -83.3L4.6 -83.3L6.1 -83.2L7.5 -83.2L8.9 -83.1L10.2 -83.0L11.4 -82.9L12.6 -82.8L13.7 -82.7L14.7 -82.6L15.7 -82.5L16.6 -82.4L17.4 -82.2L18.1 -82.0L18.8 -81.8L19.4 -81.6L19.9 -81.3L20.4 -81.0L20.9 -80.7L21.3 -80.3L21.7 -79.9L22.1 -79.4L22.4 -78.9L22.7 -78.3L23.0 -77.7L23.3 -77.1L23.5 -76.4L23.7 -75.8L23.9 -75.1L24.0 -74.3L24.2 -73.4L24.4 -72.5L24.6 -71.5L24.7 -70.4L24.8 -69.3L24.9 -68.1L24.8 -66.8L24.6 -65.4L24.4 -63.9L24.0 -62.3L23.6 -60.8L23.0 -59.2L22.4 -57.8L21.7 -56.5L20.8 -55.3L19.9 -54.2L18.9 -53.0L17.7 -51.8L16.4 -50.6L14.9 -49.2L13.2 -47.8L11.3 -46.3L9.4 -44.8L7.4 -43.4L5.5 -42.2L3.6 -41.2L1.7 -40.3L-0.2 -39.5L-2.2 -38.8L-4.3 -38.0L-6.5 -37.3L-9.0 -36.5L-11.9 -35.7L-14.8 -34.9L-17.6 -34.2L-19.9 -33.5L-21.6 -33.1L-21.0 -34.1L-20.1 -35.4L-19.1 -37.1L-18.0 -38.8L-17.0 -40.5L-16.1 -42.2L-15.4 -43.8L-14.7 -45.4L-14.0 -47.0L-13.4 -48.7L-12.9 -50.3L-12.5 -51.8L-12.2 -53.3L-11.9 -54.7L-11.8 -56.1L-11.7 -57.4L-11.7 -58.8L-11.7 -60.2L-11.8 -61.6L-11.9 -63.1L-12.1 -64.5L-12.3 -66.0L-12.7 -67.3L-13.1 -68.6L-13.6 -69.8L-14.2 -70.8L-14.8 -71.8L-15.5 -72.8L-16.4 -73.7L-17.3 -74.7L-18.5 -75.8L-20.0 -76.9L-21.5 -78.1L-23.0 -79.1L-24.3 -80.0Z"/>
<path d="M61.6 -60.9L62.2 -60.2L63.1 -59.3L64.0 -58.2L65.1 -57.0L66.2 -55.8L67.2 -54.6L68.2 -53.4L69.1 -52.1L70.1 -50.8L71.1 -49.5L72.1 -48.2L73.0 -46.9L73.9 -45.6L74.8 -44.3L75.7 -43.0L76.6 -41.7L77.4 -40.4L78.2 -39.1L78.9 -37.9L79.6 -36.7L80.2 -35.5L80.8 -34.3L81.4 -33.2L81.9 -32.2L82.4 -31.2L82.9 -30.2L83.3 -29.3L83.7 -28.5L84.0 -27.7L84.3 -26.9L84.5 -26.2L84.6 -25.6L84.7 -25.0L84.8 -24.4L84.7 -23.9L84.7 -23.3L84.5 -22.7L84.3 -22.2L84.0 -21.7L83.7 -21.1L83.4 -20.6L83.0 -20.1L82.5 -19.6L82.0 -19.1L81.5 -18.6L81.0 -18.1L80.3 -17.5L79.6 -17.0L78.8 -16.4L78.0 -15.7L77.1 -15.0L76.1 -14.4L75.0 -13.7L73.8 -13.2L72.5 -12.6L71.0 -12.1L69.3 -11.6L67.7 -11.1L66.0 -10.8L64.4 -10.6L62.8 -10.6L61.3 -10.7L59.8 -10.8L58.2 -11.1L56.5 -11.5L54.7 -11.9L52.7 -12.5L50.5 -13.1L48.2 -13.9L45.9 -14.7L43.6 -15.6L41.6 -16.6L39.7 -17.7L37.9 -18.8L36.2 -19.9L34.5 -21.2L32.8 -22.5L31.1 -24.0L29.1 -25.6L26.9 -27.5L24.7 -29.5L22.6 -31.4L20.9 -33.0L19.6 -34.2L20.9 -34.2L22.5 -34.1L24.5 -34.1L26.7 -34.1L28.8 -34.1L30.8 -34.2L32.6 -34.4L34.4 -34.7L36.3 -34.9L38.0 -35.3L39.8 -35.7L41.4 -36.1L42.9 -36.6L44.3 -37.1L45.7 -37.7L47.0 -38.3L48.2 -38.9L49.5 -39.6L50.8 -40.4L52.1 -41.2L53.3 -42.1L54.5 -43.1L55.6 -44.0L56.5 -45.0L57.3 -46.0L58.0 -46.9L58.6 -48.0L59.1 -49.0L59.6 -50.2L60.0 -51.5L60.4 -53.0L60.8 -54.7L61.0 -56.6L61.3 -58.3L61.5 -59.8Z"/>
<path d="M86.8 19.8L86.5 20.6L86.1 21.8L85.6 23.1L85.0 24.6L84.4 26.1L83.8 27.5L83.2 28.9L82.5 30.3L81.8 31.8L81.1 33.3L80.4 34.7L79.6 36.1L78.9 37.5L78.1 38.9L77.4 40.3L76.6 41.6L75.8 42.9L75.1 44.2L74.3 45.4L73.5 46.6L72.7 47.7L72.0 48.8L71.2 49.8L70.5 50.7L69.9 51.7L69.2 52.5L68.6 53.3L68.0 54.0L67.5 54.7L66.9 55.3L66.3 55.8L65.8 56.2L65.3 56.6L64.8 56.9L64.3 57.2L63.8 57.4L63.2 57.6L62.6 57.7L61.9 57.7L61.3 57.7L60.6 57.7L60.0 57.6L59.3 57.5L58.6 57.4L57.8 57.2L57.1 57.0L56.3 56.7L55.4 56.4L54.4 56.1L53.4 55.8L52.4 55.4L51.3 54.9L50.2 54.3L49.0 53.6L47.9 52.8L46.6 51.8L45.3 50.8L44.1 49.6L42.9 48.4L42.0 47.2L41.1 45.9L40.4 44.7L39.8 43.3L39.3 41.9L38.8 40.4L38.3 38.7L37.8 36.7L37.3 34.6L36.9 32.4L36.5 30.1L36.2 27.8L36.1 25.6L36.1 23.5L36.2 21.5L36.4 19.6L36.8 17.6L37.1 15.5L37.6 13.3L38.1 10.9L38.8 8.2L39.5 5.4L40.2 2.8L40.8 0.5L41.2 -1.1L41.8 -0.1L42.6 1.3L43.6 3.0L44.7 4.7L45.8 6.4L46.9 8.0L47.9 9.4L49.1 10.8L50.3 12.1L51.5 13.4L52.7 14.6L53.9 15.7L55.1 16.7L56.3 17.6L57.5 18.4L58.7 19.2L59.9 19.9L61.2 20.6L62.6 21.2L64.0 21.8L65.4 22.4L66.8 22.9L68.3 23.3L69.6 23.6L70.9 23.8L72.2 23.9L73.4 23.8L74.7 23.7L76.0 23.5L77.3 23.2L78.9 22.8L80.7 22.2L82.6 21.5L84.3 20.8L85.8 20.2Z"/>
<path d="M25.2 80.7L24.3 80.9L23.0 81.1L21.5 81.3L19.9 81.6L18.2 81.9L16.6 82.1L15.0 82.3L13.4 82.5L11.7 82.6L10.0 82.8L8.3 82.9L6.6 83.0L4.9 83.1L3.3 83.2L1.6 83.2L0.0 83.3L-1.6 83.3L-3.1 83.3L-4.6 83.3L-6.1 83.2L-7.5 83.2L-8.9 83.1L-10.2 83.0L-11.4 82.9L-12.6 82.8L-13.7 82.7L-14.7 82.6L-15.7 82.5L-16.6 82.4L-17.4 82.2L-18.1 82.0L-18.8 81.8L-19.4 81.6L-19.9 81.3L-20.4 81.0L-20.9 80.7L-21.3 80.3L-21.7 79.9L-22.1 79.4L-22.4 78.9L-22.7 78.3L-23.0 77.7L-23.3 77.1L-23.5 76.4L-23.7 75.8L-23.9 75.1L-24.0 74.3L-24.2 73.4L-24.4 72.5L-24.6 71.5L-24.7 70.4L-24.8 69.3L-24.9 68.1L-24.8 66.8L-24.6 65.4L-24.4 63.9L-24.0 62.3L-23.6 60.8L-23.0 59.2L-22.4 57.8L-21.7 56.5L-20.8 55.3L-19.9 54.2L-18.9 53.0L-17.7 51.8L-16.4 50.6L-14.9 49.2L-13.2 47.8L-11.3 46.3L-9.4 44.8L-7.4 43.4L-5.5 42.2L-3.6 41.2L-1.7 40.3L0.2 39.5L2.2 38.8L4.3 38.0L6.5 37.3L9.0 36.5L11.9 35.7L14.8 34.9L17.6 34.2L19.9 33.5L21.6 33.1L21.0 34.1L20.1 35.4L19.1 37.1L18.0 38.8L17.0 40.5L16.1 42.2L15.4 43.8L14.7 45.4L14.0 47.0L13.4 48.7L12.9 50.3L12.5 51.8L12.2 53.3L11.9 54.7L11.8 56.1L11.7 57.4L11.7 58.8L11.7 60.2L11.8 61.6L11.9 63.1L12.1 64.5L12.3 66.0L12.7 67.3L13.1 68.6L13.6 69.8L14.2 70.8L14.8 71.8L15.5 72.8L16.4 73.7L17.3 74.7L18.5 75.8L20.0 76.9L21.5 78.1L23.0 79.1L24.3 80.0Z"/>
<path d="M-61.6 60.9L-62.2 60.2L-63.1 59.3L-64.0 58.2L-65.1 57.0L-66.2 55.8L-67.2 54.6L-68.2 53.4L-69.1 52.1L-70.1 50.8L-71.1 49.5L-72.1 48.2L-73.0 46.9L-73.9 45.6L-74.8 44.3L-75.7 43.0L-76.6 41.7L-77.4 40.4L-78.2 39.1L-78.9 37.9L-79.6 36.7L-80.2 35.5L-80.8 34.3L-81.4 33.2L-81.9 32.2L-82.4 31.2L-82.9 30.2L-83.3 29.3L-83.7 28.5L-84.0 27.7L-84.3 26.9L-84.5 26.2L-84.6 25.6L-84.7 25.0L-84.8 24.4L-84.7 23.9L-84.7 23.3L-84.5 22.7L-84.3 22.2L-84.0 21.7L-83.7 21.1L-83.4 20.6L-83.0 20.1L-82.5 19.6L-82.0 19.1L-81.5 18.6L-81.0 18.1L-80.3 17.5L-79.6 17.0L-78.8 16.4L-78.0 15.7L-77.1 15.0L-76.1 14.4L-75.0 13.7L-73.8 13.2L-72.5 12.6L-71.0 12.1L-69.3 11.6L-67.7 11.1L-66.0 10.8L-64.4 10.6L-62.8 10.6L-61.3 10.7L-59.8 10.8L-58.2 11.1L-56.5 11.5L-54.7 11.9L-52.7 12.5L-50.5 13.1L-48.2 13.9L-45.9 14.7L-43.6 15.6L-41.6 16.6L-39.7 17.7L-37.9 18.8L-36.2 19.9L-34.5 21.2L-32.8 22.5L-31.1 24.0L-29.1 25.6L-26.9 27.5L-24.7 29.5L-22.6 31.4L-20.9 33.0L-19.6 34.2L-20.9 34.2L-22.5 34.1L-24.5 34.1L-26.7 34.1L-28.8 34.1L-30.8 34.2L-32.6 34.4L-34.4 34.7L-36.3 34.9L-38.0 35.3L-39.8 35.7L-41.4 36.1L-42.9 36.6L-44.3 37.1L-45.7 37.7L-47.0 38.3L-48.2 38.9L-49.5 39.6L-50.8 40.4L-52.1 41.2L-53.3 42.1L-54.5 43.1L-55.6 44.0L-56.5 45.0L-57.3 46.0L-58.0 46.9L-58.6 48.0L-59.1 49.0L-59.6 50.2L-60.0 51.5L-60.4 53.0L-60.8 54.7L-61.0 56.6L-61.3 58.3L-61.5 59.8Z"/>
<path d="M-86.8 -19.8L-86.5 -20.6L-86.1 -21.8L-85.6 -23.1L-85.0 -24.6L-84.4 -26.1L-83.8 -27.5L-83.2 -28.9L-82.5 -30.3L-81.8 -31.8L-81.1 -33.3L-80.4 -34.7L-79.6 -36.1L-78.9 -37.5L-78.1 -38.9L-77.4 -40.3L-76.6 -41.6L-75.8 -42.9L-75.1 -44.2L-74.3 -45.4L-73.5 -46.6L-72.7 -47.7L-72.0 -48.8L-71.2 -49.8L-70.5 -50.7L-69.9 -51.7L-69.2 -52.5L-68.6 -53.3L-68.0 -54.0L-67.5 -54.7L-66.9 -55.3L-66.3 -55.8L-65.8 -56.2L-65.3 -56.6L-64.8 -56.9L-64.3 -57.2L-63.8 -57.4L-63.2 -57.6L-62.6 -57.7L-61.9 -57.7L-61.3 -57.7L-60.6 -57.7L-60.0 -57.6L-59.3 -57.5L-58.6 -57.4L-57.8 -57.2L-57.1 -57.0L-56.3 -56.7L-55.4 -56.4L-54.4 -56.1L-53.4 -55.8L-52.4 -55.4L-51.3 -54.9L-50.2 -54.3L-49.0 -53.6L-47.9 -52.8L-46.6 -51.8L-45.3 -50.8L-44.1 -49.6L-42.9 -48.4L-42.0 -47.2L-41.1 -45.9L-40.4 -44.7L-39.8 -43.3L-39.3 -41.9L-38.8 -40.4L-38.3 -38.7L-37.8 -36.7L-37.3 -34.6L-36.9 -32.4L-36.5 -30.1L-36.2 -27.8L-36.1 -25.6L-36.1 -23.5L-36.2 -21.5L-36.4 -19.6L-36.8 -17.6L-37.1 -15.5L-37.6 -13.3L-38.1 -10.9L-38.8 -8.2L-39.5 -5.4L-40.2 -2.8L-40.8 -0.5L-41.2 1.1L-41.8 0.1L-42.6 -1.3L-43.6 -3.0L-44.7 -4.7L-45.8 -6.4L-46.9 -8.0L-47.9 -9.4L-49.1 -10.8L-50.3 -12.1L-51.5 -13.4L-52.7 -14.6L-53.9 -15.7L-55.1 -16.7L-56.3 -17.6L-57.5 -18.4L-58.7 -19.2L-59.9 -19.9L-61.2 -20.6L-62.6 -21.2L-64.0 -21.8L-65.4 -22.4L-66.8 -22.9L-68.3 -23.3L-69.6 -23.6L-70.9 -23.8L-72.2 -23.9L-73.4 -23.8L-74.7 -23.7L-76.0 -23.5L-77.3 -23.2L-78.9 -22.8L-80.7 -22.2L-82.6 -21.5L-84.3 -20.8L-85.8 -20.2Z"/>
</g>
<text class="lg" x="661" y="543.6" text-anchor="middle" textLength="36" lengthAdjust="spacingAndGlyphs" >新峰运</text>
<circle cx="684.1" cy="533.4" r="2.8" fill="#ee1118"/><circle cx="684.3" cy="533.2" r=".8" fill="#fff"/>
<text class="big" x="692.8" y="532.2" text-anchor="start" textLength="100" lengthAdjust="spacingAndGlyphs" >新运风机</text>
<text class="t6" x="726" y="560.3" text-anchor="middle" textLength="68" lengthAdjust="spacingAndGlyphs" >网址: 不锈钢风机.网址</text>
<text class="t7" x="726" y="568.3" text-anchor="middle" textLength="51" lengthAdjust="spacingAndGlyphs" >www.xinyunfj.com</text>
</svg>
</body></html>
